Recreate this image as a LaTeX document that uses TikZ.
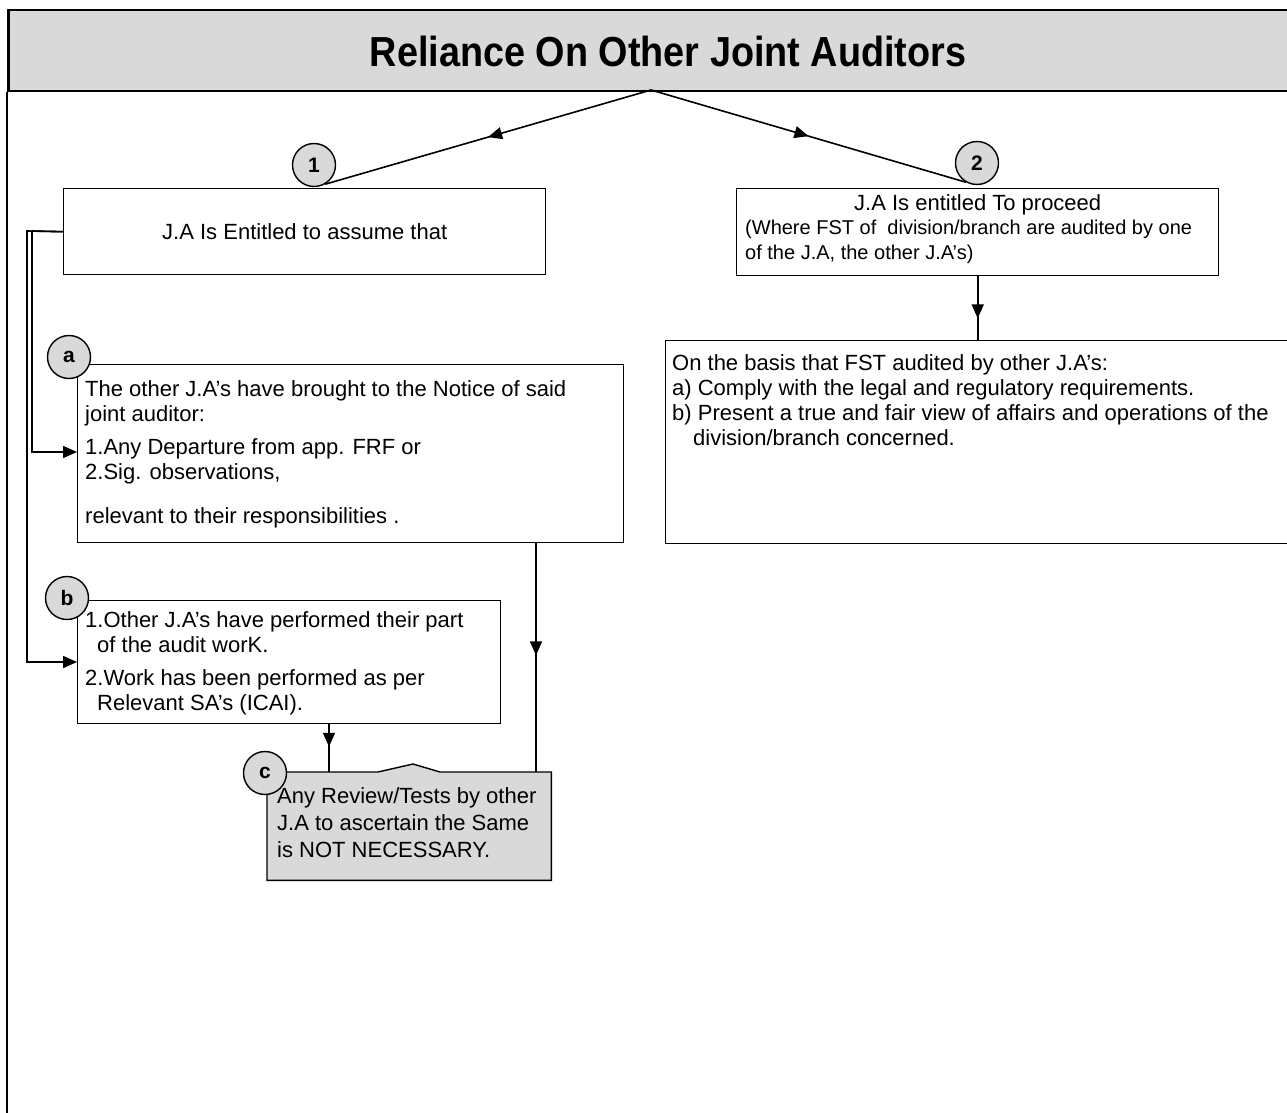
\documentclass[tikz,border=0pt]{standalone}
\usepackage{fontspec}
\setmainfont{Liberation Sans}
\newfontfamily\titlefont[FakeStretch=0.9]{Liberation Sans}
\usetikzlibrary{arrows.meta,decorations.markings,calc}
\definecolor{panel}{HTML}{D9D9D9}
\begin{document}
\begin{tikzpicture}[x=1pt,y=-1pt,
  frame/.style={draw=black,line width=2.5pt},
  box/.style={draw=black,line width=1.4pt,fill=white,rectangle,inner sep=0pt,anchor=north west},
  badge/.style={circle,draw=black,line width=1.4pt,fill=panel,minimum size=43pt,inner sep=0pt,
    font=\fontsize{21}{21}\selectfont\bfseries},
  body/.style={font=\fontsize{22}{25}\selectfont,align=left,inner sep=0pt,anchor=north west},
  link/.style={draw=black,line width=1.6pt},
  tip/.style={-{Triangle[length=14pt,width=12pt]}},
  midarrow/.style={postaction={decorate},decoration={markings,
    mark=at position #1 with {\arrow{Triangle[length=14pt,width=12pt]}}}}
]
\useasboundingbox (0,0) rectangle (1287,1113);
\fill[white] (0,0) rectangle (1287,1113);

% title band and page frame
\node[frame,fill=panel,anchor=north west,minimum width=1300pt,minimum height=81pt,inner sep=0pt] (head) at (7,9) {};
\node[font=\fontsize{42}{42}\titlefont\bfseries] (title) at (668,51) {Reliance On Other Joint Auditors};
\draw[frame] (head.south west) -- (7,1125);
\coordinate (apex) at (651,90);

% branch 1
\node[box,minimum width=482pt,minimum height=86pt,font=\fontsize{22}{25}\selectfont] (b1) at (63,188) {J.A Is Entitled to assume that};
\node[badge] (n1) at (314,165) {1};

% branch 2
\node[box,minimum width=482pt,minimum height=87pt] (b2) at (736,188) {};
\node[badge] (n2) at (977,163) {2};
\node[font=\fontsize{22}{25}\selectfont,inner sep=0pt,anchor=base] (b2head) at ($(b2.north)+(0,22)$) {J.A Is entitled To proceed};
\node[body,font=\fontsize{20}{25}\selectfont] (b2text) at ($(b2.north west)+(9,32)$) {(Where FST of ~division/branch are audited by one\\of the J.A, the other J.A's)};

\node[box,minimum width=640pt,minimum height=203pt] (basis) at (665,340) {};
\node[body] (basistext) at ($(basis.north west)+(7,14)$) {On the basis that FST audited by other J.A's:\\
a) Comply with the legal and regulatory requirements.\\
b) Present a true and fair view of affairs and operations of the\\
\hspace*{21pt}division/branch concerned.};

% sub-points of branch 1
\node[box,minimum width=546pt,minimum height=178pt] (ba) at (77,364) {};
\node[body] (batext) at ($(ba.north west)+(8,16)$) {The other J.A's have brought to the Notice of said\\
joint auditor:\\[8pt]
1.Any Departure from app. FRF or\\
2.Sig. observations,\\[19pt]
relevant to their responsibilities .};
\node[badge] (na) at (69,357) {a};

\node[box,minimum width=423pt,minimum height=123pt] (bb) at (77,600) {};
\node[body] (bbtext) at ($(bb.north west)+(8,11)$) {1.Other J.A's have performed their part\\
\hspace*{12pt}of the audit worK.\\[8pt]
2.Work has been performed as per\\
\hspace*{12pt}Relevant SA's (ICAI).};
\node[badge] (nb) at (67,598) {b};

\node[anchor=north west,minimum width=284pt,minimum height=108pt,inner sep=0pt] (bc) at (267,772) {};
\draw[line width=1.4pt,fill=panel] (bc.north west) -- ++(111,0) -- ++(35,-8) -- ++(27,8)
  -- (bc.north east) -- (bc.south east) -- (bc.south west) -- cycle;
\node[body,font=\fontsize{22}{27}\selectfont] (bctext) at ($(bc.north west)+(10,15)$) {Any Review/Tests by other\\
J.A to ascertain the Same\\
is NOT NECESSARY.};
\node[badge] (nc) at (265,773) {c};

% connectors
\draw[link,midarrow=0.5] (apex) -- (n1.-60);
\draw[link,midarrow=0.5] (apex) -- (n2.-120);
\draw[link,midarrow=0.66] (b2.south) -- (b2.south |- basis.north);
\draw[link,tip] (b1.west) -- (32,231) -- (32,452) -- ($(ba.north west)+(0,88)$);
\draw[link,tip] (b1.west) -- (27,231) -- (27,662) -- ($(bb.north west)+(0,62)$);
\draw[link,midarrow=0.49] ($(ba.south west)+(459,0)$) -- ($(bc.north west)+(269,0)$);
\draw[link,midarrow=0.47] ($(bb.south west)+(252,0)$) -- ($(bc.north west)+(62,0)$);
\end{tikzpicture}
\end{document}
